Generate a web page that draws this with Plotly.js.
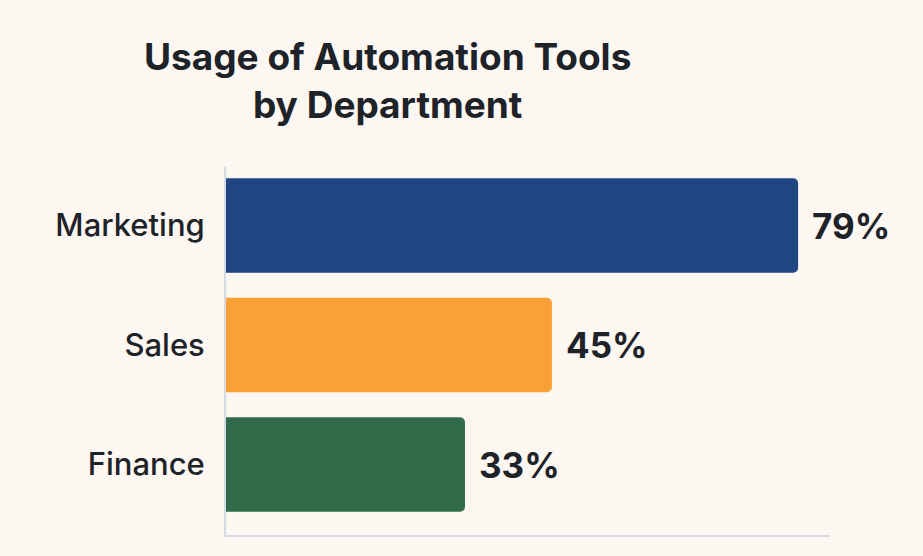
<!DOCTYPE html>
<html>
<head>
<meta charset="utf-8">
<script src="https://cdn.plot.ly/plotly-3.0.1.min.js"></script>
<style>
  html, body { margin: 0; padding: 0; background: #fcf7f0; }
  #chart { width: 923px; height: 556px; }
</style>
</head>
<body>
<div id="chart"></div>
<script>
// departments, bottom to top
const departments = ["Finance", "Sales", "Marketing"];
const usagePct = [33, 45, 79];
const barColors = ["#306b4a", "#f9a136", "#1f4583"];

const ink = "#1e2229";

const trace = {
  type: "bar",
  orientation: "h",
  y: departments,
  x: usagePct,
  marker: { color: barColors, cornerradius: 5, line: { width: 0 } },
  hoverinfo: "none",
};

// value labels next to each bar
const labels = departments.map((d, i) => ({
  x: usagePct[i],
  y: d,
  xref: "x",
  yref: "y",
  text: usagePct[i] + "%",
  showarrow: false,
  xanchor: "left",
  yanchor: "middle",
  xshift: 12,
  font: { family: "Inter, 'Open Sans', sans-serif", size: 35, color: ink, weight: 700 },
}));

const layout = {
  width: 923,
  height: 556,
  paper_bgcolor: "#fcf7f0",
  plot_bgcolor: "#fcf7f0",
  margin: { l: 226, r: 93, t: 167, b: 21 },
  showlegend: false,
  bargap: 0.21,
  title: {
    text: "Usage of Automation Tools<br>by Department",
    x: 0.42,
    xanchor: "center",
    y: 0.875,
    yanchor: "top",
    font: { family: "Inter, 'Open Sans', sans-serif", size: 37, color: ink, weight: 700 },
  },
  xaxis: {
    range: [0, 83.4],
    showgrid: false,
    zeroline: false,
    showticklabels: false,
    showline: true,
    linecolor: "#d3dce5",
    linewidth: 2,
    fixedrange: true,
  },
  yaxis: {
    range: [-0.59, 2.49],
    showgrid: false,
    zeroline: false,
    showline: true,
    linecolor: "#d3dce5",
    linewidth: 2,
    ticks: "",
    ticklabelstandoff: 13,
    tickfont: { family: "Inter, 'Open Sans', sans-serif", size: 31, color: ink, weight: 500 },
    fixedrange: true,
  },
  annotations: labels,
};

Plotly.newPlot("chart", [trace], layout, { displayModeBar: false, staticPlot: true });
</script>
</body>
</html>
